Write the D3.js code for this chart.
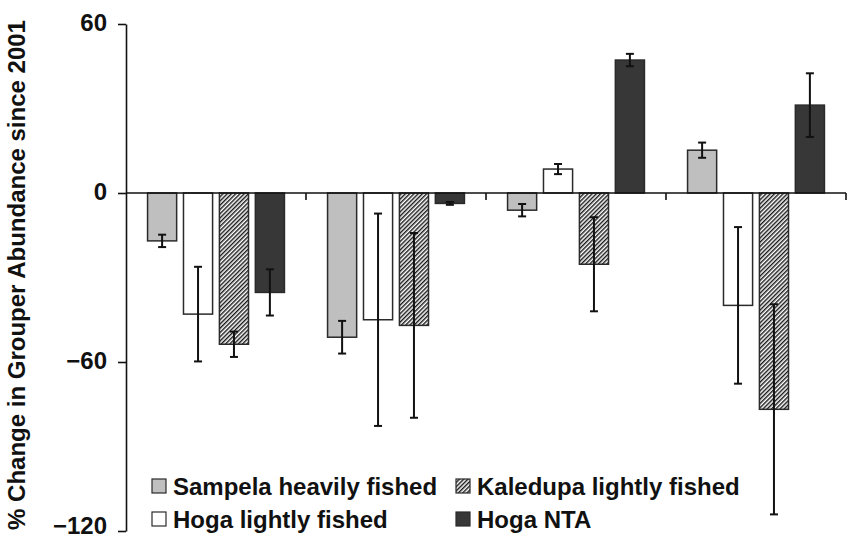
<!DOCTYPE html>
<html>
<head>
<meta charset="utf-8">
<script src="https://cdn.jsdelivr.net/npm/d3@7"></script>
<style>
  html, body { margin: 0; padding: 0; background: #fff; }
  svg { display: block; }
  text { font-family: "Liberation Sans", Arial, sans-serif; font-weight: bold; fill: #111; }
</style>
</head>
<body>
<svg id="chart" width="850" height="539"></svg>
<script>
// ---- data ----
const groups = ["Period 1", "Period 2", "Period 3", "Period 4"];
const seriesNames = ["Sampela heavily fished", "Hoga lightly fished", "Kaledupa lightly fished", "Hoga NTA"];
const sampelaValues  = [-17.0, -51.2, -6.1, 15.2];
const sampelaErrors  = [2.2, 5.8, 2.2, 2.7];
const hogaLightValues = [-43.0, -45.0, 8.5, -39.9];
const hogaLightErrors = [16.8, 37.7, 1.8, 27.8];
const kaledupaValues = [-53.7, -47.0, -25.3, -76.8];
const kaledupaErrors = [4.5, 32.8, 16.7, 37.3];
const hogaNTAValues  = [-35.3, -3.7, 47.2, 31.2];
const hogaNTAErrors  = [8.2, 0.5, 2.2, 11.3];
const yTicks = [60, 0, -60, -120];
const yLabel = "% Change in Grouper Abundance since 2001";

// ---- build table ----
const seriesValues = [sampelaValues, hogaLightValues, kaledupaValues, hogaNTAValues];
const seriesErrors = [sampelaErrors, hogaLightErrors, kaledupaErrors, hogaNTAErrors];
const rows = [];
groups.forEach((g, gi) => {
  seriesNames.forEach((s, si) => {
    rows.push({ group: g, series: s, value: seriesValues[si][gi], err: seriesErrors[si][gi] });
  });
});

const svg = d3.select("#chart");
const defs = svg.append("defs");
const hatch = defs.append("pattern")
  .attr("id", "hatch")
  .attr("patternUnits", "userSpaceOnUse")
  .attr("width", 3).attr("height", 3)
  .attr("patternTransform", "rotate(45)");
hatch.append("rect").attr("width", 3).attr("height", 3).attr("fill", "#fff");
hatch.append("line").attr("x1", 0.7).attr("y1", -1).attr("x2", 0.7).attr("y2", 4)
  .attr("stroke", "#1a1a1a").attr("stroke-width", 1.5);

const fills = {
  "Sampela heavily fished": "#bfbfbf",
  "Hoga lightly fished": "#ffffff",
  "Kaledupa lightly fished": "url(#hatch)",
  "Hoga NTA": "#373737"
};

const x0 = d3.scaleBand().domain(groups).range([126, 846]).padding(0);
const x1 = d3.scaleBand().domain(seriesNames).range([0, x0.bandwidth()])
  .paddingInner(0.19).paddingOuter(0.6);
const y = d3.scaleLinear().domain([-120, 60]).range([531, 24]);

// bars
svg.append("g").selectAll("rect")
  .data(rows).join("rect")
  .attr("x", d => x0(d.group) + x1(d.series))
  .attr("width", x1.bandwidth())
  .attr("y", d => y(Math.max(0, d.value)))
  .attr("height", d => Math.abs(y(d.value) - y(0)))
  .attr("fill", d => fills[d.series])
  .attr("stroke", "#2a2a2a")
  .attr("stroke-width", 1.5);

// error bars
const eb = svg.append("g").attr("stroke", "#111").attr("stroke-width", 2);
rows.forEach(d => {
  const cx = x0(d.group) + x1(d.series) + x1.bandwidth() / 2;
  const y1 = y(d.value + d.err), y2 = y(d.value - d.err);
  eb.append("line").attr("x1", cx).attr("x2", cx).attr("y1", y1).attr("y2", y2);
  eb.append("line").attr("x1", cx - 4).attr("x2", cx + 4).attr("y1", y1).attr("y2", y1);
  eb.append("line").attr("x1", cx - 4).attr("x2", cx + 4).attr("y1", y2).attr("y2", y2);
});

// y axis
const yAxis = svg.append("g")
  .attr("transform", "translate(126,0)")
  .call(d3.axisLeft(y).tickValues(yTicks).tickSize(8).tickSizeOuter(0).tickPadding(11));
yAxis.select(".domain").attr("stroke", "#111").attr("stroke-width", 1.6);
yAxis.selectAll(".tick line").attr("stroke", "#111").attr("stroke-width", 1.6);
yAxis.selectAll(".tick text")
  .attr("font-size", 24)
  .attr("dy", d => d === -120 ? "0.12em" : "0.28em")
  .attr("font-family", "'Liberation Sans', Arial, sans-serif")
  .attr("font-weight", "bold")
  .attr("fill", "#111");

// zero line with group boundary ticks
const xAxis = svg.append("g")
  .attr("transform", `translate(0,${y(0)})`);
xAxis.append("line")
  .attr("x1", x0.range()[0]).attr("x2", x0.range()[1])
  .attr("stroke", "#111").attr("stroke-width", 1.6);
const boundaries = groups.map(g => x0(g) + x0.bandwidth());
xAxis.selectAll("line.bt").data(boundaries).join("line")
  .attr("class", "bt")
  .attr("x1", d => d).attr("x2", d => d)
  .attr("y1", 0).attr("y2", 7)
  .attr("stroke", "#111").attr("stroke-width", 1.6);

// y label
svg.append("text")
  .attr("transform", "translate(25,275) rotate(-90)")
  .attr("text-anchor", "middle")
  .attr("font-size", 24)
  .text(yLabel);

// legend
const legendPos = [
  { x: 152, y: 495 }, // Sampela
  { x: 152, y: 528 }, // Hoga lightly
  { x: 456, y: 495 }, // Kaledupa
  { x: 456, y: 528 }  // Hoga NTA
];
const lg = svg.append("g");
seriesNames.forEach((s, i) => {
  const p = legendPos[i];
  lg.append("rect")
    .attr("x", p.x).attr("y", p.y - 16)
    .attr("width", 14).attr("height", 14)
    .attr("fill", fills[s])
    .attr("stroke", "#2a2a2a").attr("stroke-width", 1.2);
  lg.append("text")
    .attr("x", p.x + 21).attr("y", p.y)
    .attr("font-size", 24)
    .text(s);
});
</script>
</body>
</html>
